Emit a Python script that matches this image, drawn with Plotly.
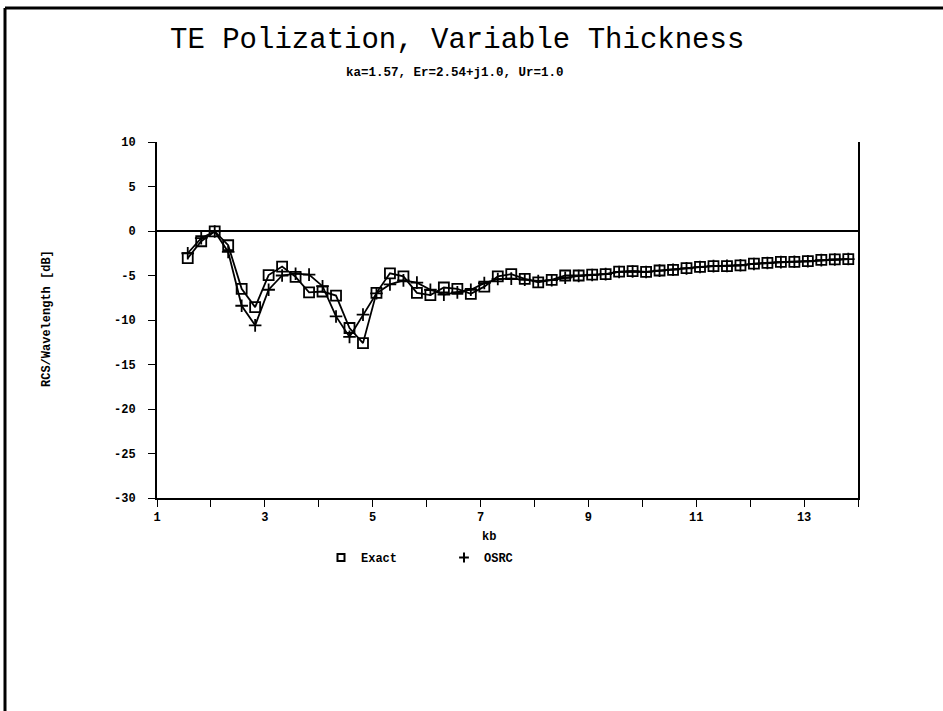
import plotly.graph_objects as go

# ---- data ----
kb = [1.57, 1.82, 2.07, 2.32, 2.57, 2.82, 3.07, 3.32, 3.57, 3.82,
      4.07, 4.32, 4.57, 4.82, 5.07, 5.32, 5.57, 5.82, 6.07, 6.32,
      6.57, 6.82, 7.07, 7.32, 7.57, 7.82, 8.07, 8.32, 8.57, 8.82,
      9.07, 9.32, 9.57, 9.82, 10.07, 10.32, 10.57, 10.82, 11.07, 11.32,
      11.57, 11.82, 12.07, 12.32, 12.57, 12.82, 13.07, 13.32, 13.57, 13.82]

exact = [-3.05, -1.15, -0.05, -1.6, -6.5, -8.55, -4.95, -4.0, -5.15, -6.9,
         -6.8, -7.25, -10.9, -12.6, -6.95, -4.75, -5.1, -6.95, -7.2, -6.35,
         -6.5, -7.06, -6.25, -5.1, -4.85, -5.39, -5.77, -5.5, -5.0, -5.0,
         -4.9, -4.85, -4.57, -4.5, -4.6, -4.44, -4.36, -4.17, -4.03, -3.94,
         -3.94, -3.86, -3.67, -3.58, -3.47, -3.47, -3.39, -3.25, -3.19, -3.17]

osrc = [-2.5, -0.8, -0.05, -2.35, -8.4, -10.6, -6.6, -5.0, -4.8, -4.9,
        -6.2, -9.6, -11.9, -9.4, -7.0, -6.0, -5.55, -5.8, -6.6, -7.15,
        -6.9, -6.6, -5.85, -5.4, -5.35, -5.47, -5.61, -5.53, -5.25, -5.05,
        -4.95, -4.85, -4.6, -4.55, -4.6, -4.45, -4.35, -4.2, -4.05, -3.95,
        -3.92, -3.85, -3.7, -3.6, -3.5, -3.45, -3.4, -3.27, -3.2, -3.15]

x_tick_vals = [1, 2, 3, 4, 5, 6, 7, 8, 9, 10, 11, 12, 13, 14]
x_tick_text = ["1", "", "3", "", "5", "", "7", "", "9", "", "11", "", "13", ""]
y_tick_vals = [10, 5, 0, -5, -10, -15, -20, -25, -30]
y_tick_text = ["10", "5", "0", "-5", "-10", "-15", "-20", "-25", "-30"]

title_text = "TE Polization, Variable Thickness"
subtitle_text = "ka=1.57, Er=2.54+j1.0, Ur=1.0"
x_title = "kb"
y_title = "RCS/Wavelength [dB]"

MONO = "Liberation Mono, Courier New, monospace"
BOLD = dict(family=MONO, size=12, color="black", weight="bold")

fig = go.Figure()

fig.add_trace(go.Scatter(
    x=kb, y=exact, mode="lines+markers", name="Exact", showlegend=False,
    line=dict(color="black", width=1.8),
    marker=dict(symbol="square-open", size=10, color="black",
                line=dict(color="black", width=1.8)),
))
fig.add_trace(go.Scatter(
    x=kb, y=osrc, mode="lines+markers", name="OSRC", showlegend=False,
    line=dict(color="black", width=1.8),
    marker=dict(symbol="cross-thin", size=9, color="black",
                line=dict(color="black", width=1.8)),
))
# legend entries (markers only, like the reference)
fig.add_trace(go.Scatter(
    x=[None], y=[None], mode="markers", name="Exact",
    marker=dict(symbol="square-open", size=7, color="black",
                line=dict(color="black", width=2)),
))
fig.add_trace(go.Scatter(
    x=[None], y=[None], mode="markers", name="OSRC",
    marker=dict(symbol="cross-thin", size=7, color="black",
                line=dict(color="black", width=2)),
))

L, R, T, B = 157, 858, 142, 498
W, H = 943, 711


def px(xp):
    return (xp - L) / (R - L)


def py(yp):
    return (B - yp) / (B - T)


fig.update_layout(
    width=W, height=H,
    margin=dict(l=L, r=W - R, t=T, b=H - B, autoexpand=False),
    paper_bgcolor="white", plot_bgcolor="white",
    showlegend=True,
    legend=dict(orientation="h", x=px(321), y=py(543), xanchor="left", yanchor="top",
                font=dict(family=MONO, size=12, color="black", weight="bold"),
                entrywidth=78, entrywidthmode="pixels",
                bgcolor="rgba(0,0,0,0)"),
    xaxis=dict(range=[1, 14], tickvals=x_tick_vals, ticktext=x_tick_text,
               showgrid=False, zeroline=False, showline=True, linecolor="black",
               linewidth=1.8, ticks="outside", ticklen=7, tickwidth=1.3,
               tickcolor="black", tickfont=BOLD),
    yaxis=dict(range=[-30, 10], tickvals=y_tick_vals, ticktext=y_tick_text,
               showgrid=False, zeroline=True, zerolinecolor="black", zerolinewidth=1.8,
               showline=True, mirror=True, linecolor="black", linewidth=1.8,
               ticks="outside", ticklen=7, tickwidth=1.3, tickcolor="black",
               ticklabelstandoff=10, tickfont=BOLD),
    annotations=[
        dict(text=title_text, xref="paper", yref="paper", x=px(457), y=py(40),
             showarrow=False, xanchor="center", yanchor="middle",
             font=dict(family=MONO, size=29, color="black")),
        dict(text=subtitle_text, xref="paper", yref="paper", x=px(455), y=py(73),
             showarrow=False, xanchor="center", yanchor="middle",
             font=dict(family=MONO, size=12.5, color="black", weight="bold")),
        dict(text=x_title, xref="paper", yref="paper", x=px(489), y=py(537),
             showarrow=False, xanchor="center", yanchor="middle",
             font=dict(family=MONO, size=12, color="black", weight="bold")),
        dict(text=y_title, xref="paper", yref="paper", x=px(47), y=py(319),
             showarrow=False, xanchor="center", yanchor="middle", textangle=-90,
             font=dict(family=MONO, size=12, color="black", weight="bold")),
    ],
    shapes=[
        dict(type="line", xref="paper", yref="paper",
             x0=px(5), x1=px(943), y0=py(8), y1=py(8),
             line=dict(color="black", width=3)),
        dict(type="line", xref="paper", yref="paper",
             x0=px(5), x1=px(5), y0=py(8), y1=py(711),
             line=dict(color="black", width=3)),
    ],
)

fig.write_html("out.html")
